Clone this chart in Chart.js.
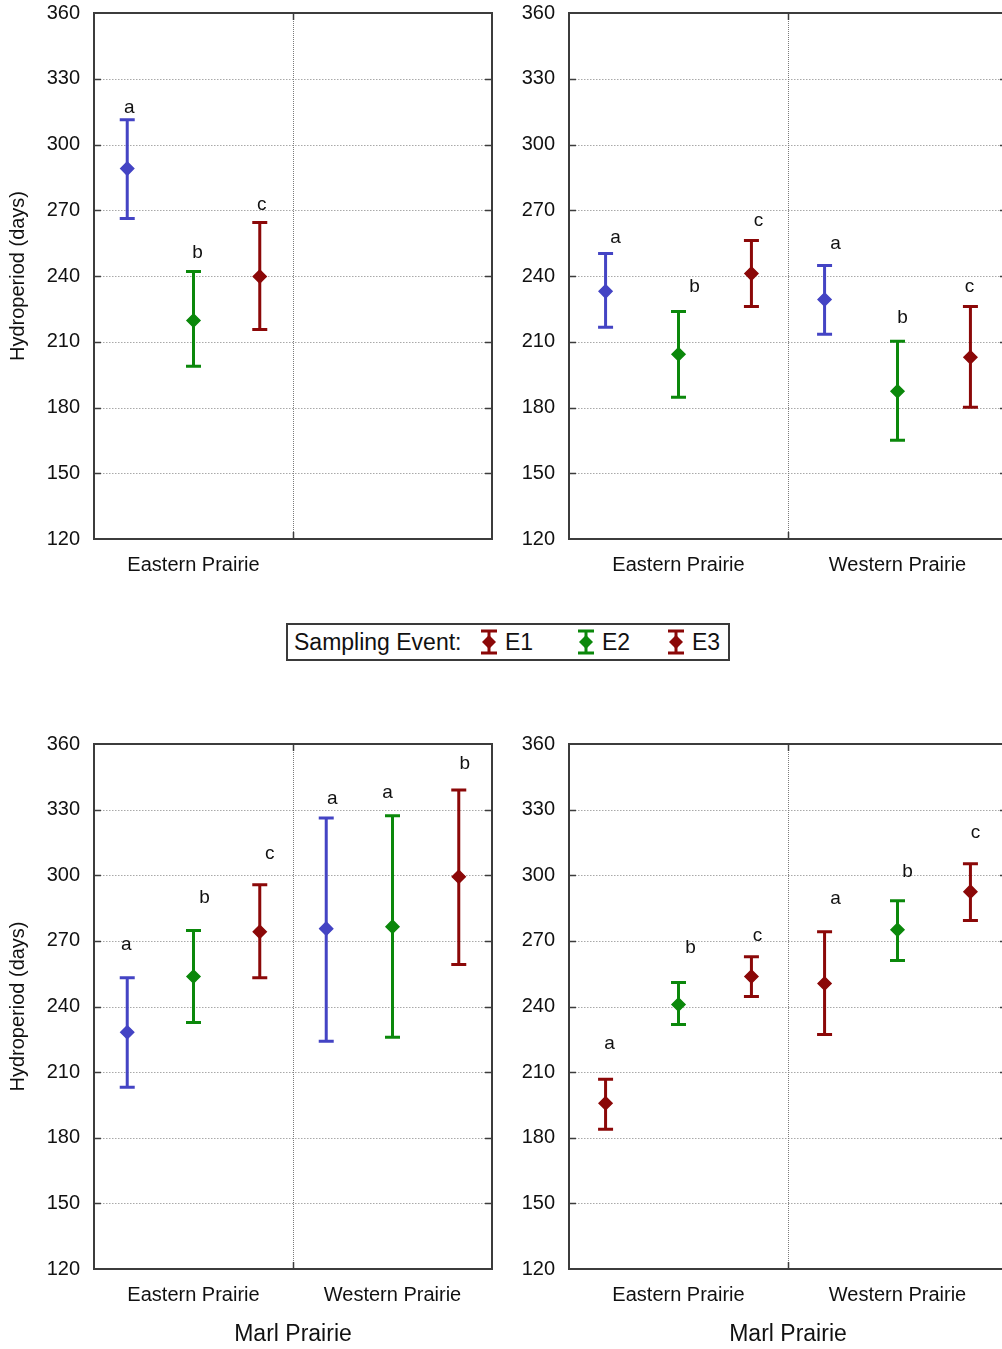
<!DOCTYPE html>
<html>
<head>
<meta charset="utf-8">
<script src="https://cdn.jsdelivr.net/npm/chart.js@4.4.1/dist/chart.umd.min.js"></script>
<style>
  html, body { margin: 0; padding: 0; background: #fff; overflow: hidden; }
  #page { position: relative; width: 1002px; height: 1349px; overflow: hidden; background: #fff; }
  .panel { position: absolute; }
  #legend {
    position: absolute; left: 286px; top: 623px; width: 444px; height: 38px;
    box-sizing: border-box; border: 2px solid #3a3a3a; background: #fff;
    font-family: 'Liberation Sans', Arial, sans-serif; font-size: 23px; color: #111;
  }
  #legend span, #legend svg { position: absolute; }
  #legend span { top: 3px; line-height: 28px; white-space: nowrap; }
</style>
</head>
<body>
<div id="page">
  <canvas id="upperLeft" class="panel" width="500" height="593" style="left:0;top:-13px"></canvas>
  <canvas id="upperRight" class="panel" width="515" height="593" style="left:500px;top:-13px"></canvas>
  <canvas id="lowerLeft" class="panel" width="500" height="631" style="left:0;top:718px"></canvas>
  <canvas id="lowerRight" class="panel" width="515" height="631" style="left:500px;top:718px"></canvas>
  <div id="legend"></div>
</div>
<script>
// ---------------- data ----------------
// Hydroperiod (days): mean with interval bounds, ordered group by group,
// three sampling events (E1, E2, E3) in each group.
const eventNames = ['E1', 'E2', 'E3'];
const yTicks = [120, 150, 180, 210, 240, 270, 300, 330, 360];

const upperLeftGroups = ['Eastern Prairie', ''];
const upperLeftMean = [289.0, 219.7, 239.8];
const upperLeftLow = [266.2, 198.8, 215.6];
const upperLeftHigh = [311.3, 242.1, 264.4];
const upperLeftLetters = ['a', 'b', 'c'];
const upperLeftLetterAt = [316.7, 250.7, 272.6];

const upperRightGroups = ['Eastern Prairie', 'Western Prairie'];
const upperRightMean = [233.0, 204.3, 241.1, 229.3, 187.4, 202.9];
const upperRightLow = [216.6, 184.7, 226.1, 213.4, 165.1, 180.1];
const upperRightHigh = [250.3, 223.8, 256.2, 244.8, 210.2, 226.1];
const upperRightLetters = ['a', 'b', 'c', 'a', 'b', 'c'];
const upperRightLetterAt = [257.5, 235.2, 265.3, 254.8, 221.1, 235.2];

const lowerLeftGroups = ['Eastern Prairie', 'Western Prairie'];
const lowerLeftMean = [228.2, 253.7, 274.2, 275.6, 276.5, 299.3];
const lowerLeftLow = [203.1, 232.7, 253.2, 224.1, 225.9, 259.2];
const lowerLeftHigh = [253.2, 274.7, 295.7, 326.2, 327.2, 339.0];
const lowerLeftLetters = ['a', 'b', 'c', 'a', 'a', 'b'];
const lowerLeftLetterAt = [268.3, 289.7, 309.8, 334.9, 337.6, 350.9];

const lowerRightGroups = ['Eastern Prairie', 'Western Prairie'];
const lowerRightMean = [195.8, 240.9, 253.7, 250.5, 275.1, 292.5];
const lowerRightLow = [183.9, 231.8, 244.6, 227.2, 261.0, 279.3];
const lowerRightHigh = [206.7, 251.0, 262.8, 274.2, 288.4, 305.3];
const lowerRightLetters = ['a', 'b', 'c', 'a', 'b', 'c'];
const lowerRightLetterAt = [223.1, 266.9, 272.4, 289.3, 301.6, 319.4];

// ---------------- styles & layout ----------------
const BLUE = '#4444C4';
const GREEN = '#0B880B';
const RED = '#8B0808';
const TEXT = '#111111';
const FONT = "'Liberation Sans', Arial, sans-serif";
const SPREAD = 0.333;          // horizontal spacing of the events within a group

Chart.defaults.font.family = FONT;
Chart.defaults.color = TEXT;

// Frame, dotted grid, group dividers, interval bars and letters
const intervalPlot = {
  id: 'intervalPlot',
  beforeDatasetsDraw(chart, args, opts) {
    const { ctx, chartArea: a, scales: { x, y } } = chart;
    ctx.save();
    // dotted horizontal grid
    ctx.lineWidth = 1;
    ctx.strokeStyle = '#a9a9a9';
    ctx.setLineDash([1.5, 1.5]);
    y.ticks.forEach(t => {
      if (t.value <= y.min || t.value >= y.max) return;
      const py = Math.round(y.getPixelForValue(t.value)) + 0.5;
      ctx.beginPath(); ctx.moveTo(a.left, py); ctx.lineTo(a.right, py); ctx.stroke();
    });
    // dotted group dividers
    ctx.strokeStyle = '#7a7a7a';
    ctx.setLineDash([1, 1]);
    for (let g = 1; g < opts.groups; g++) {
      const px = Math.round(x.getPixelForValue(g)) + 0.5;
      ctx.beginPath(); ctx.moveTo(px, a.top); ctx.lineTo(px, a.bottom); ctx.stroke();
    }
    ctx.setLineDash([]);
    // frame
    ctx.strokeStyle = '#3c3c3c';
    ctx.lineWidth = 2;
    ctx.strokeRect(a.left, a.top, a.right - a.left, a.bottom - a.top);
    // inward tick marks
    ctx.lineWidth = 1.5;
    y.ticks.forEach(t => {
      if (t.value <= y.min || t.value >= y.max) return;
      const py = Math.round(y.getPixelForValue(t.value)) + 0.5;
      ctx.beginPath();
      ctx.moveTo(a.left, py); ctx.lineTo(a.left + 7, py);
      ctx.moveTo(a.right, py); ctx.lineTo(a.right - 7, py);
      ctx.stroke();
    });
    for (let g = 1; g < opts.groups; g++) {
      const px = Math.round(x.getPixelForValue(g)) + 0.5;
      ctx.beginPath();
      ctx.moveTo(px, a.bottom); ctx.lineTo(px, a.bottom - 7);
      ctx.moveTo(px, a.top); ctx.lineTo(px, a.top + 7);
      ctx.stroke();
    }
    // interval bars with caps
    ctx.lineWidth = 3;
    chart.data.datasets.forEach(ds => {
      ctx.strokeStyle = ds.borderColor;
      ds.data.forEach(p => {
        const px = x.getPixelForValue(p.x);
        const yl = y.getPixelForValue(p.low);
        const yh = y.getPixelForValue(p.high);
        ctx.beginPath();
        ctx.moveTo(px, yl); ctx.lineTo(px, yh);
        ctx.moveTo(px - 7.5, yl); ctx.lineTo(px + 7.5, yl);
        ctx.moveTo(px - 7.5, yh); ctx.lineTo(px + 7.5, yh);
        ctx.stroke();
      });
    });
    ctx.restore();
  },
  afterDatasetsDraw(chart) {
    const { ctx, scales: { x, y } } = chart;
    ctx.save();
    ctx.fillStyle = TEXT;
    ctx.font = '19px ' + FONT;
    ctx.textAlign = 'center';
    ctx.textBaseline = 'middle';
    chart.data.datasets.forEach(ds => {
      ds.data.forEach(p => {
        ctx.fillText(p.letter, x.getPixelForValue(p.x) + p.dx, y.getPixelForValue(p.letterAt));
      });
    });
    ctx.restore();
  }
};

function buildPanel(id, groups, mean, low, high, letters, letterAt, cfg) {
  const nGroups = groups.length;
  const datasets = eventNames.map((name, e) => {
    const pts = [];
    for (let g = 0; g < nGroups; g++) {
      const i = g * eventNames.length + e;
      if (i >= mean.length) continue;
      pts.push({
        x: g + 0.5 + (e - 1) * SPREAD,
        y: mean[i], low: low[i], high: high[i],
        letter: letters[i], letterAt: letterAt[i], dx: cfg.letterDx[i]
      });
    }
    const color = cfg.palette[e];
    return {
      label: name, data: pts,
      borderColor: color, backgroundColor: color,
      pointStyle: 'rectRot', pointRadius: 6.5, pointBorderWidth: 1.5,
      pointHoverRadius: 6.5, showLine: false
    };
  });

  return new Chart(document.getElementById(id), {
    type: 'scatter',
    data: { datasets },
    plugins: [intervalPlot],
    options: {
      responsive: false,
      animation: false,
      events: [],
      layout: { padding: { top: 0, right: cfg.padRight, left: 0, bottom: 0 } },
      plugins: {
        legend: { display: false },
        tooltip: { enabled: false },
        intervalPlot: { groups: nGroups }
      },
      scales: {
        x: {
          type: 'linear', min: 0, max: nGroups,
          grid: { display: false, drawTicks: false },
          border: { display: false },
          afterBuildTicks: s => { s.ticks = groups.map((_, g) => ({ value: g + 0.5 })); },
          afterFit: s => { s.height = cfg.xAxisHeight; },
          ticks: {
            autoSkip: false, maxRotation: 0, padding: 14,
            font: { size: 20 }, color: TEXT,
            callback: v => groups[Math.floor(v)]
          },
          title: {
            display: !!cfg.xTitle, text: cfg.xTitle || '',
            font: { size: 23 }, color: TEXT, padding: { top: 0, bottom: 1 }
          }
        },
        y: {
          type: 'linear', min: yTicks[0], max: yTicks[yTicks.length - 1],
          grid: { display: false, drawTicks: false },
          border: { display: false },
          afterBuildTicks: s => { s.ticks = yTicks.map(v => ({ value: v })); },
          afterFit: s => { s.width = cfg.yAxisWidth; },
          ticks: { padding: 14, font: { size: 20 }, color: TEXT },
          title: {
            display: !!cfg.yTitle, text: cfg.yTitle || '',
            font: { size: 20 }, color: TEXT, padding: { top: 6, bottom: 0 }
          }
        }
      }
    }
  });
}

buildPanel('upperLeft', upperLeftGroups, upperLeftMean, upperLeftLow, upperLeftHigh,
  upperLeftLetters, upperLeftLetterAt, {
    palette: [BLUE, GREEN, RED], letterDx: [2, 4, 2],
    yTitle: 'Hydroperiod (days)', yAxisWidth: 94, xAxisHeight: 41, padRight: 7
  });
buildPanel('upperRight', upperRightGroups, upperRightMean, upperRightLow, upperRightHigh,
  upperRightLetters, upperRightLetterAt, {
    palette: [BLUE, GREEN, RED], letterDx: [10, 16, 7, 11, 5, -1],
    yAxisWidth: 69, xAxisHeight: 41, padRight: 6
  });
buildPanel('lowerLeft', lowerLeftGroups, lowerLeftMean, lowerLeftLow, lowerLeftHigh,
  lowerLeftLetters, lowerLeftLetterAt, {
    palette: [BLUE, GREEN, RED], letterDx: [-1, 11, 10, 6, -5, 6],
    yTitle: 'Hydroperiod (days)', xTitle: 'Marl Prairie',
    yAxisWidth: 94, xAxisHeight: 80, padRight: 7
  });
buildPanel('lowerRight', lowerRightGroups, lowerRightMean, lowerRightLow, lowerRightHigh,
  lowerRightLetters, lowerRightLetterAt, {
    palette: [RED, GREEN, RED], letterDx: [4, 12, 6, 11, 10, 5],
    xTitle: 'Marl Prairie', yAxisWidth: 69, xAxisHeight: 80, padRight: 6
  });

// ---------------- shared legend ----------------
const legendColors = [RED, GREEN, RED];
const legendIconX = [192, 289, 379];
(function buildLegend() {
  const box = document.getElementById('legend');
  const title = document.createElement('span');
  title.textContent = 'Sampling Event:';
  title.style.left = '6px';
  box.appendChild(title);
  eventNames.forEach((name, i) => {
    const c = legendColors[i];
    const ns = 'http://www.w3.org/2000/svg';
    const svg = document.createElementNS(ns, 'svg');
    svg.setAttribute('width', '18'); svg.setAttribute('height', '26');
    svg.style.left = legendIconX[i] + 'px'; svg.style.top = '4px';
    svg.innerHTML =
      `<path d="M9 2V24M1 2H17M1 24H17" stroke="${c}" stroke-width="3" fill="none"/>` +
      `<polygon points="9,6 16,13 9,20 2,13" fill="${c}"/>`;
    box.appendChild(svg);
    const lab = document.createElement('span');
    lab.textContent = name;
    lab.style.left = (legendIconX[i] + 25) + 'px';
    box.appendChild(lab);
  });
})();
</script>
</body>
</html>
